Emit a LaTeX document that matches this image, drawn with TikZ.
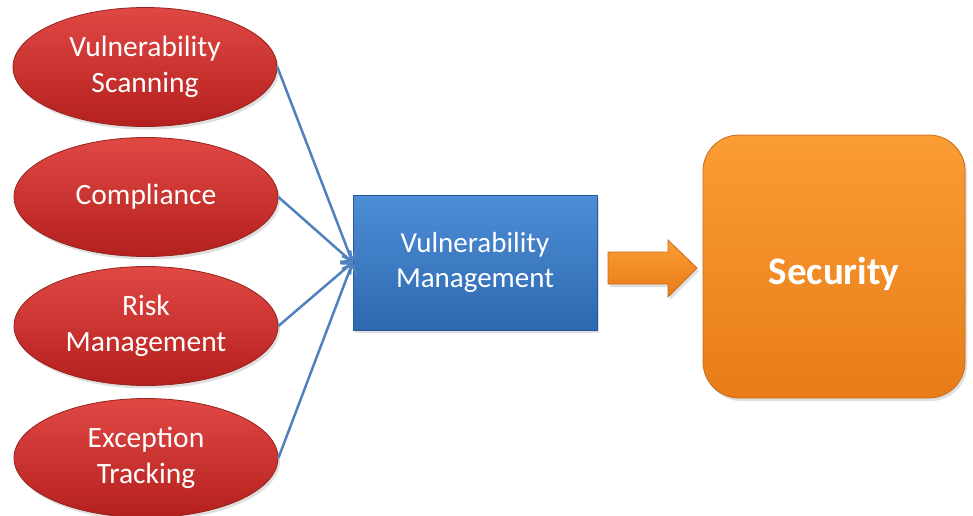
\documentclass[tikz,border=0pt]{standalone}
\usepackage{fontspec}
\setmainfont{Carlito}
\usetikzlibrary{arrows.meta,shadows,calc,shapes.geometric}
\definecolor{redtop}{RGB}{224,72,68}
\definecolor{redbot}{RGB}{180,32,30}
\definecolor{redline}{RGB}{150,35,30}
\definecolor{bluetop}{RGB}{78,142,214}
\definecolor{bluebot}{RGB}{44,104,176}
\definecolor{blueline}{RGB}{40,90,150}
\definecolor{orgtop}{RGB}{250,156,52}
\definecolor{orgbot}{RGB}{232,124,24}
\definecolor{orgline}{RGB}{200,110,30}
\definecolor{conncol}{RGB}{79,129,189}
\tikzset{
  oval/.style={ellipse, draw=redline, line width=0.8pt, top color=redtop, bottom color=redbot,
    minimum width=264pt, minimum height=119pt, inner sep=0pt, text=white, align=center,
    font=\fontsize{29.5}{36}\selectfont, drop shadow={opacity=0.25,shadow xshift=2pt,shadow yshift=-3pt}},
  vmbox/.style={rectangle, draw=blueline, line width=0.8pt, top color=bluetop, bottom color=bluebot,
    minimum width=244pt, minimum height=135pt, inner sep=0pt, text=white, align=center,
    font=\fontsize{29}{35}\selectfont, drop shadow={opacity=0.25,shadow xshift=2pt,shadow yshift=-3pt}},
  secbox/.style={rectangle, rounded corners=36pt, draw=orgline, line width=0.8pt, top color=orgtop, bottom color=orgbot,
    minimum width=262pt, minimum height=263pt, inner sep=0pt, text=white, align=center,
    text height=35pt, text depth=0pt,
    font=\fontsize{39}{44}\selectfont\bfseries, drop shadow={opacity=0.25,shadow xshift=2pt,shadow yshift=-3pt}},
  conn/.style={draw=conncol, line width=2.5pt, -{Straight Barb[length=8pt,width=15pt,line width=2.5pt]}},
  bigarrow/.style={draw=orgline, line width=0.8pt, top color=orgtop, bottom color=orgbot,
    drop shadow={opacity=0.25,shadow xshift=2pt,shadow yshift=-3pt}}
}
\begin{document}
\begin{tikzpicture}[x=1pt,y=-1pt]
\useasboundingbox (0,0) rectangle (973,515);
\node[oval] (e1) at (145,67) {Vulnerability\\Scanning};
\node[oval] (e2) at (146,197) {Compliance};
\node[oval] (e3) at (146,326) {Risk\\Management};
\node[oval] (e4) at (146,458) {Exception\\Tracking};
\node[vmbox] (vm) at (475,262.5) {Vulnerability\\Management};
\node[secbox] (sec) at (834,266.5) {Security};
\draw[conn] (e1.east) -- (vm.west);
\draw[conn] (e2.east) -- (vm.west);
\draw[conn] (e3.east) -- (vm.west);
\draw[conn] (e4.east) -- (vm.west);
\path[bigarrow] (608,252) -- (668,252) -- (668,240) -- (697,268) -- (668,297) -- (668,284) -- (608,284) -- cycle;
\end{tikzpicture}
\end{document}
